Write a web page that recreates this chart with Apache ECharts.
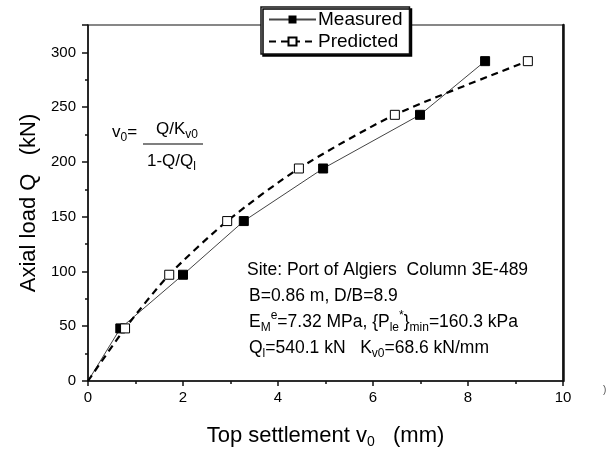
<!DOCTYPE html>
<html><head><meta charset="utf-8">
<script src="https://cdn.jsdelivr.net/npm/echarts@6/dist/echarts.min.js"></script>
<style>html,body{margin:0;padding:0;background:#fff}#c{width:616px;height:454px}</style>
</head><body><div id="c"></div>
<script>
var measuredX = [0, 0.68, 2.0, 3.28, 4.95, 6.99, 8.36];
var measuredQ = [0, 48, 97, 146, 194, 243, 292];
var predictedX = [0, 0.78, 1.71, 2.93, 4.44, 6.46, 9.26];
var predictedQ = [0, 48, 97, 146, 194, 243, 292];
var xTicks = [0, 2, 4, 6, 8, 10];
var yTicks = [0, 50, 100, 150, 200, 250, 300];

var FONT = 'Liberation Sans, Arial, sans-serif';
function pts(xs, ys) {
  return xs.map(function (x, i) {
    var d = { value: [x, ys[i]] };
    if (x === 0 && ys[i] === 0) d.symbol = 'none';
    return d;
  });
}
function richText(left, top, text, size) {
  var LH = 24;
  return { type: 'text', left: left, top: top, z: 10,
    style: { text: text, font: size + 'px ' + FONT, fill: '#000', lineHeight: LH,
      rich: {
        n: { fontSize: size, fontFamily: FONT, lineHeight: LH },
        s: { fontSize: 12, fontFamily: FONT, lineHeight: 9, verticalAlign: 'bottom' },
        p: { fontSize: 12, fontFamily: FONT, lineHeight: 10, verticalAlign: 'top' }
      } } };
}
var chart = echarts.init(document.getElementById('c'), null, { renderer: 'canvas' });
chart.setOption({
  animation: false,
  backgroundColor: '#fff',
  grid: { left: 88, right: 53, top: 25, bottom: 70, show: true, borderColor: '#111', borderWidth: 1.2 },
  legend: {
    orient: 'vertical', left: 261, top: 7, padding: [3, 7, 3, 7], itemGap: 3,
    itemWidth: 47, itemHeight: 10,
    backgroundColor: '#fff', borderColor: '#111', borderWidth: 1.5,
    shadowColor: '#000', shadowOffsetX: 2, shadowOffsetY: 2, shadowBlur: 0,
    textStyle: { fontFamily: FONT, fontSize: 19, color: '#000', padding: [0, 0, 0, -3] },
    data: ['Measured', 'Predicted']
  },
  xAxis: [{
    type: 'value', min: 0, max: 10, interval: 2,
    name: 'Top settlement v{s|0}   (mm)', nameLocation: 'middle', nameGap: 42,
    nameTextStyle: { fontFamily: FONT, fontSize: 22, color: '#000', lineHeight: 26,
      rich: { s: { fontSize: 14, fontFamily: FONT, lineHeight: 10, verticalAlign: 'bottom' } } },
    axisLine: { lineStyle: { color: '#111', width: 1.5 } },
    axisTick: { show: true, inside: false, length: 5, lineStyle: { color: '#111', width: 1.5 } },
    minorTick: { show: true, splitNumber: 2, length: 3, lineStyle: { color: '#111', width: 1.5 } },
    splitLine: { show: false },
    axisLabel: { fontFamily: FONT, fontSize: 15, color: '#000', margin: 9 }
  }],
  yAxis: [{
    type: 'value', min: 0, max: 325, interval: 50,
    name: 'Axial load Q   (kN)', nameLocation: 'middle', nameGap: 43,
    nameTextStyle: { fontFamily: FONT, fontSize: 22, color: '#000' },
    axisLine: { lineStyle: { color: '#111', width: 1.5 } },
    axisTick: { show: true, inside: false, length: 6, lineStyle: { color: '#111', width: 1.5 } },
    minorTick: { show: true, splitNumber: 2, length: 3, lineStyle: { color: '#111', width: 1.5 } },
    splitLine: { show: false },
    axisLabel: { fontFamily: FONT, fontSize: 15, color: '#000', margin: 12, showMaxLabel: false }
  }, {
    type: 'value', min: 0, max: 325, position: 'right',
    axisLine: { show: true, lineStyle: { color: '#111', width: 2.5 } },
    axisTick: { show: false }, axisLabel: { show: false }, splitLine: { show: false }
  }],
  series: [{
    name: 'Measured', type: 'line', data: pts(measuredX, measuredQ),
    symbol: 'rect', symbolSize: 9,
    lineStyle: { color: '#444', width: 1 },
    itemStyle: { color: '#000', borderColor: '#000' }
  }, {
    name: 'Predicted', type: 'line', data: pts(predictedX, predictedQ),
    symbol: 'rect', symbolSize: 9, smooth: 0.25,
    lineStyle: { color: '#000', width: 2.2, type: [7, 5] },
    itemStyle: { color: '#fff', borderColor: '#000', borderWidth: 1 }
  }],
  graphic: [
    richText(112, 120, 'v{s|0}=', 17),
    richText(156, 117, 'Q/K{s|v0}', 17),
    { type: 'line', z: 10, shape: { x1: 143, y1: 144, x2: 203, y2: 144 }, style: { stroke: '#000', lineWidth: 1.2 } },
    richText(147, 149, '1-Q/Q{s|l}', 17),
    richText(247, 258, 'Site: Port of Algiers  Column 3E-489', 17.5),
    richText(249, 284, 'B=0.86 m, D/B=8.9', 17.5),
    richText(249, 310, 'E{s|M}{p|e}=7.32 MPa, {P{s|le}{p|*}}{s|min}=160.3 kPa', 17.5),
    richText(249, 336, 'Q{s|l}=540.1 kN   K{s|v0}=68.6 kN/mm', 17.5),
    { type: 'text', left: 603, top: 385, style: { text: ')', font: '10px ' + FONT, fill: '#555' } }
  ]
});
</script></body></html>
